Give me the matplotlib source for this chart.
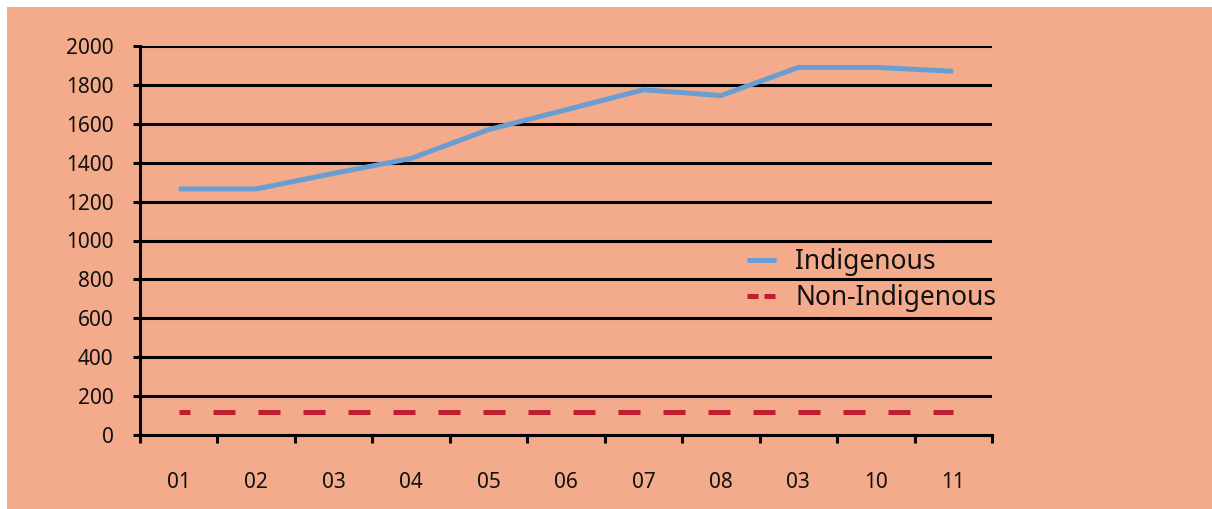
import numpy as np
import matplotlib
matplotlib.use("Agg")
import matplotlib.pyplot as plt
from matplotlib.patches import Rectangle

categories = ["01", "02", "03", "04", "05", "06", "07", "08", "03", "10", "11"]
indigenous = [1265, 1265, 1345, 1422, 1570, 1672, 1775, 1745, 1890, 1890, 1870]
non_indigenous = [120, 120, 120, 120, 120, 120, 120, 120, 120, 120, 120]
y_ticks = [0, 200, 400, 600, 800, 1000, 1200, 1400, 1600, 1800, 2000]

BG = "#F3AB8B"
BLUE = "#6A9ED3"
RED = "#BE1E2D"

plt.rcParams['font.family'] = ['Noto Sans', 'DejaVu Sans']

W, H = 1212, 509
fig = plt.figure(figsize=(W / 100, H / 100), dpi=100, facecolor="white")
fig.patches.append(Rectangle((7 / W, 0), 1 - 7 / W, 1 - 7 / H, transform=fig.transFigure,
                             facecolor=BG, edgecolor="none", zorder=-10))

ax = fig.add_axes([140 / W, 1 - 435 / H, (992 - 140) / W, (435 - 46) / H])
ax.set_facecolor("none")

n = len(categories)
x = np.arange(n) + 0.5
ax.set_xlim(0, n)
ax.set_ylim(0, 2000)

for s in ["top", "right"]:
    ax.spines[s].set_visible(False)
for s in ["left", "bottom"]:
    ax.spines[s].set_linewidth(2.2)
    ax.spines[s].set_color("black")

ax.set_yticks(y_ticks)
ax.set_yticklabels([str(v) for v in y_ticks])
ax.yaxis.grid(True, color="black", linewidth=2.2)
ax.set_axisbelow(True)
ax.tick_params(axis="y", length=5, width=2.2, direction="out", pad=14, labelsize=15,
               labelcolor="#111111")

ax.set_xticks(np.arange(n + 1))
ax.set_xticklabels([])
ax.set_xticks(x, minor=True)
ax.set_xticklabels(categories, minor=True)
ax.tick_params(axis="x", which="major", length=6, width=2.2, direction="out")
ax.tick_params(axis="x", which="minor", length=0, pad=27, labelsize=15,
               labelcolor="#111111")

ax.plot(x, indigenous, color=BLUE, linewidth=3.6, solid_capstyle="butt",
        solid_joinstyle="miter", label="Indigenous", zorder=3)
ax.plot(x, non_indigenous, color=RED, linewidth=3.6,
        linestyle=(2.2, (4.4, 4.6)), label="Non-Indigenous", zorder=3)

leg = ax.legend(loc="upper left", bbox_to_anchor=(747 / W, 1 - 248 / H),
                bbox_transform=fig.transFigure, frameon=False, fontsize=19,
                handlelength=1.1, handletextpad=0.72, labelspacing=0.32,
                borderpad=0, borderaxespad=0)
for t in leg.get_texts():
    t.set_color("#111111")
for h in leg.legend_handles:
    h.set_linestyle("-" if h.get_label() == "Indigenous" else (0, (2.2, 1.2)))

fig.savefig("out.png", dpi=100, facecolor="white")
